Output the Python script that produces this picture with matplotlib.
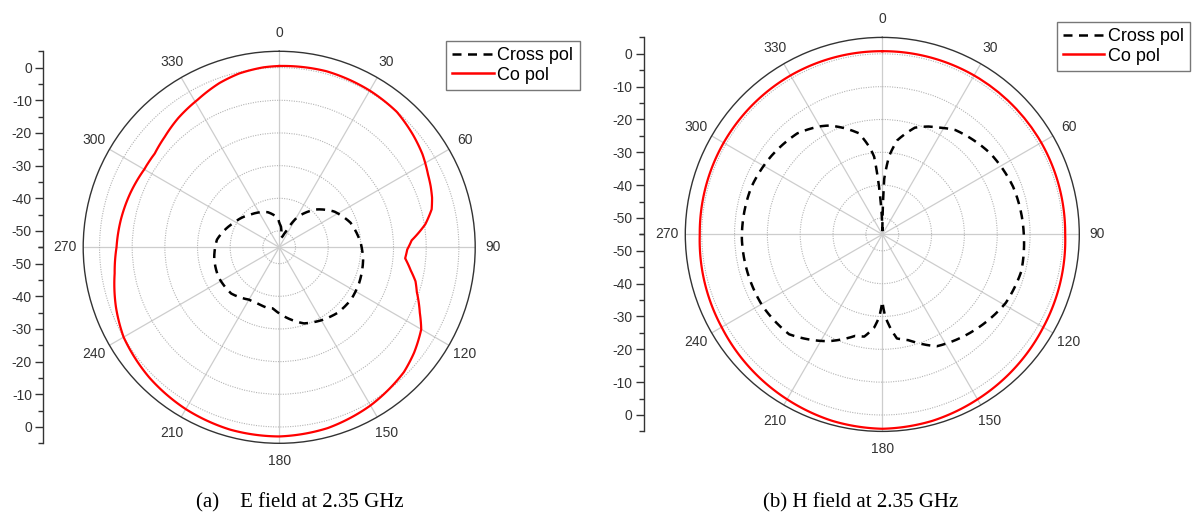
#!/usr/bin/env python3
"""
Radiation patterns (E and H plane) at 2.35 GHz, Origin-style polar plots.
"""

import numpy as np
import matplotlib
matplotlib.use('Agg')
import matplotlib.pyplot as plt
from matplotlib.ticker import FixedLocator
from matplotlib.lines import Line2D

plt.rcParams['font.family'] = ['Liberation Sans', 'DejaVu Sans']

W, H = 1193, 515

# ---- data (dB vs angle in degrees) ----
E_CO_ANG = [0, 15, 30, 41, 50, 57, 64, 68, 72, 76, 81, 87, 91, 95, 100, 104,
            108, 115, 120, 128, 135, 150, 165, 180, 195, 210, 225, 240, 250, 261,
            270, 280, 290, 300, 307, 314, 322, 331, 340, 347, 355]
E_CO_VAL = [0.5, 0.8, 0.4, -0.1, -1.5, -2.7, -4.3, -5.0, -5.8, -6.9, -9.7,
            -14.4, -15.8, -16.3, -14.1, -12.0, -10.7, -7.5, -4.8, -2.6, -1.0, 0.9,
            2.3, 2.9, 2.8, 2.2, 1.3, 0.0, -1.8, -4.0, -5.2, -5.8, -6.5, -7.3, -7.3,
            -6.3, -4.8, -3.4, -1.5, -0.4, 0.3]

E_X_ANG = [0, 5, 12, 17, 23, 31, 44, 57, 71, 87, 99, 114, 126, 138, 150, 162, 173,
           186, 191, 201, 210, 226, 244, 260, 277, 297, 319, 342, 358]
E_X_VAL = [-47.5, -48.7, -52.0, -51.6, -49.8, -44.2, -38.9, -34.9, -31.9, -30.0,
           -29.0, -28.2, -27.8, -28.1, -29.2, -30.5, -33.1, -36.2, -36.1, -36.6,
           -36.5, -34.6, -34.3, -34.8, -35.8, -39.0, -41.7, -43.7, -46.1]

H_CO_ANG = [0, 30, 60, 90, 120, 150, 165, 180, 195, 210, 240, 270, 300, 330]
H_CO_VAL = [0.8, 0.9, 0.9, 0.7, 1.6, 3.0, 3.8, 4.2, 3.8, 3.0, 1.5, 0.6, 0.8, 0.9]

H_X_ANG = [0, 0.5, 2, 5, 9, 17, 23, 27, 35, 53, 70, 90, 105, 119, 136, 154, 166,
           172, 175, 178, 180, 182, 185, 190, 195, 207, 223, 239, 268, 290, 305,
           320, 330, 334, 340, 347, 352, 354, 357, 359.5]
H_X_VAL = [-54.0, -53.0, -38.0, -31.0, -26.0, -21.0, -19.3, -18.4, -16.2, -13.9,
           -12.6, -11.9, -11.2, -12.0, -14.5, -17.1, -21.8, -23.0, -26.3, -30.0,
           -34.5, -30.0, -26.5, -23.4, -23.0, -18.5, -13.4, -12.5, -12.2, -12.6,
           -13.6, -14.8, -17.0, -18.1, -20.5, -23.4, -28.5, -31.2, -44.5, -53.0]

R_TICKS = [-50, -40, -30, -20, -10, 0]
R_MIN, R_MAX = -55, 5
THETA_TICKS = list(range(0, 360, 30))

TEXT_COLOR = '#333333'
DASH = (0, (3.6, 2.6))


def closed(ang, val):
    a = np.deg2rad(list(ang) + [ang[0] + 360])
    return a, list(val) + [val[0]]


def polar_line(ax, ang, val, **kw):
    """Plot a closed curve; let the polar transform draw segments as arcs/spirals."""
    a, v = closed(ang, val)
    line, = ax.plot(a, v, **kw)
    line.get_path()._interpolation_steps = 40
    return line


def draw_polar(fig, cx, cy, rad, co, cross):
    """Polar axes with center (cx, cy) and radius rad in pixels."""
    rect = [(cx - rad) / W, 1 - (cy + rad) / H, 2 * rad / W, 2 * rad / H]
    ax = fig.add_axes(rect, projection='polar')
    ax.set_theta_zero_location('N')
    ax.set_theta_direction(-1)
    ax.set_rlim(R_MIN, R_MAX)
    ax.set_rticks(R_TICKS)
    ax.set_yticklabels([])
    ax.set_thetagrids(THETA_TICKS, labels=[str(t) for t in THETA_TICKS])
    ax.xaxis.set_minor_locator(FixedLocator(np.deg2rad(np.arange(15, 360, 30))))
    ax.tick_params(axis='x', which='major', direction='inout', length=8, width=1,
                   color='#222222', labelsize=10, labelcolor=TEXT_COLOR, pad=2)
    ax.tick_params(axis='x', which='minor', direction='inout', length=5, width=0.8,
                   color='#222222')
    ax.tick_params(axis='y', length=0)
    ax.xaxis.grid(True, color='#cdcdcd', linewidth=0.9, linestyle='-')
    ax.yaxis.grid(True, color='#b4b4b4', linewidth=0.8, linestyle=(0, (1, 1.2)))
    ax.spines['polar'].set_color('#333333')
    ax.spines['polar'].set_linewidth(1.0)

    polar_line(ax, *cross, color='black', linewidth=1.8, linestyle=DASH)
    polar_line(ax, *co, color='#ff0000', linewidth=1.6)
    return ax


def draw_radial_axis(fig, x, top, bottom):
    """Origin-style mirrored dB scale on the left of the polar plot."""
    ax = fig.add_axes([x / W, 1 - bottom / H, 0.0001, (bottom - top) / H])
    span = R_MAX - R_MIN
    ax.set_ylim(-span, span)
    pos = [t - R_MIN for t in R_TICKS]
    ax.set_yticks(pos + [-p for p in pos])
    ax.set_yticklabels([str(t) for t in R_TICKS] * 2)
    minor = [t - R_MIN for t in range(R_MIN, R_MAX + 1, 5)]
    ax.yaxis.set_minor_locator(FixedLocator(minor + [-m for m in minor]))
    ax.set_xticks([])
    for s in ['top', 'right', 'bottom']:
        ax.spines[s].set_visible(False)
    ax.spines['left'].set_color('#333333')
    ax.spines['left'].set_linewidth(1.0)
    ax.tick_params(axis='y', which='major', length=6, width=1, color='#333333',
                   labelsize=10, labelcolor=TEXT_COLOR, pad=2)
    ax.tick_params(axis='y', which='minor', length=3.5, width=1, color='#333333')
    ax.patch.set_visible(False)


def add_legend(fig, x, y):
    handles = [Line2D([], [], color='black', linewidth=1.8, linestyle=DASH),
               Line2D([], [], color='#ff0000', linewidth=1.8)]
    leg = fig.legend(handles, ['Cross pol', 'Co pol'], loc='upper left',
                     bbox_to_anchor=(x / W, 1 - y / H), fontsize=13,
                     frameon=True, fancybox=False, edgecolor='#555555',
                     handlelength=2.3, handletextpad=0.2, borderpad=0.35,
                     labelspacing=0.15, borderaxespad=0)
    leg.get_frame().set_linewidth(1.0)


def main():
    fig = plt.figure(figsize=(W / 100, H / 100), dpi=100)

    # (a) E field
    draw_polar(fig, 279.2, 247.3, 196, (E_CO_ANG, E_CO_VAL), (E_X_ANG, E_X_VAL))
    draw_radial_axis(fig, 43, 51.3, 443.3)
    add_legend(fig, 446, 40.7)
    fig.text(300 / W, 1 - 503 / H, '(a)    E field at 2.35 GHz', ha='center',
             va='center', family='Liberation Serif', fontsize=15)

    # (b) H field
    draw_polar(fig, 882.3, 234.4, 197, (H_CO_ANG, H_CO_VAL), (H_X_ANG, H_X_VAL))
    draw_radial_axis(fig, 643.5, 37.4, 431.4)
    add_legend(fig, 1056.5, 21.7)
    fig.text(861 / W, 1 - 503 / H, '(b) H field at 2.35 GHz', ha='center',
             va='center', family='Liberation Serif', fontsize=15)

    fig.savefig('out.png', dpi=100)
    plt.close(fig)


if __name__ == "__main__":
    main()
